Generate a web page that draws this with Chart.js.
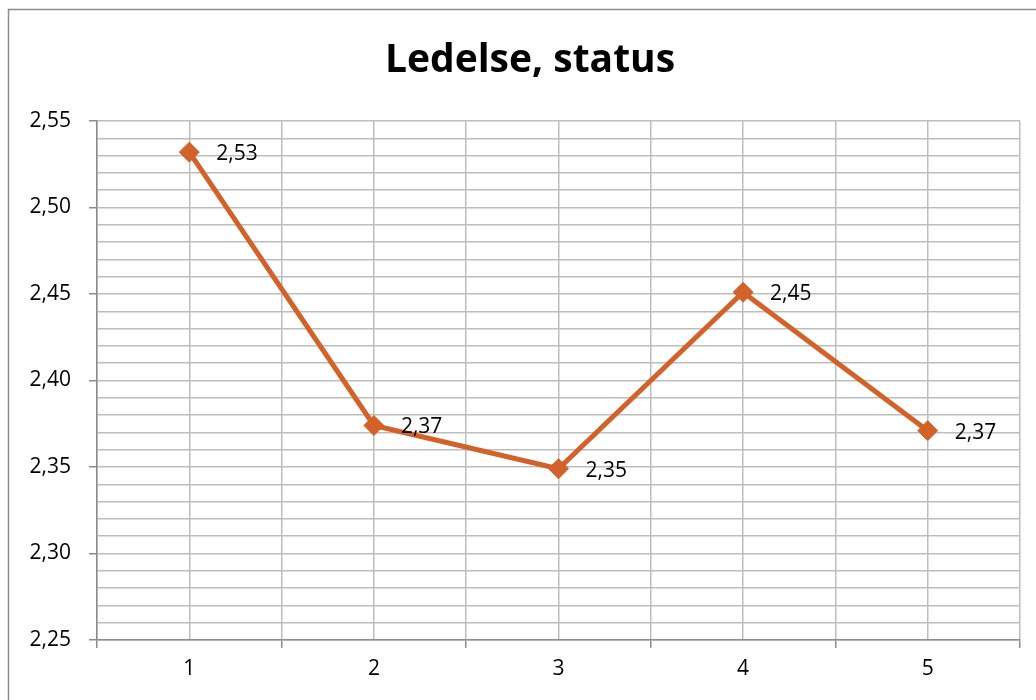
<!DOCTYPE html>
<html>
<head>
<meta charset="utf-8">
<script src="https://cdn.jsdelivr.net/npm/chart.js@4"></script>
<style>
  html, body { margin: 0; padding: 0; background: #fff; }
  #wrap { width: 1036px; height: 700px; position: relative; }
</style>
</head>
<body>
<div id="wrap"><canvas id="myChart" width="1036" height="700"></canvas></div>
<script>
var titleText = "Ledelse, status";
var categories = [1, 2, 3, 4, 5];
var values = [2.532, 2.374, 2.349, 2.451, 2.371];
var yMin = 2.25, yMax = 2.55;

var lineColor = "#D2622A";
var gridColor = "#BDBDBD";
var fontFamily = "'Open Sans', 'Liberation Sans', sans-serif";

var fmt = (v) => v.toFixed(2).replace(".", ",");
var isMajorY = (v) => Math.round(v * 100) % 5 === 0;
var isWhole = (v) => Math.abs(v - Math.round(v)) < 1e-6;

// outer frame of the chart object, plus the title centred over the frame
var framePlugin = {
  id: "frame",
  beforeDraw: (chart) => {
    var ctx = chart.ctx;
    ctx.save();
    ctx.strokeStyle = "#8C8C8C";
    ctx.lineWidth = 1.5;
    ctx.beginPath();
    ctx.moveTo(8.5, 720);
    ctx.lineTo(8.5, 9.5);
    ctx.lineTo(1050, 9.5);
    ctx.stroke();

    ctx.font = "bold 39px " + fontFamily;
    ctx.fillStyle = "#000";
    ctx.textAlign = "center";
    ctx.textBaseline = "middle";
    ctx.fillText(titleText, 530, 61);
    ctx.restore();
  },
};

// value labels to the right of each marker
var valueLabels = {
  id: "valueLabels",
  afterDatasetsDraw: (chart) => {
    var ctx = chart.ctx;
    var meta = chart.getDatasetMeta(0);
    ctx.save();
    ctx.font = "21px " + fontFamily;
    ctx.fillStyle = "#000";
    ctx.textAlign = "left";
    ctx.textBaseline = "middle";
    meta.data.forEach((pt, i) => {
      ctx.fillText(fmt(values[i]), pt.x + 27, pt.y + 2);
    });
    ctx.restore();
  },
};

var ctx = document.getElementById("myChart").getContext("2d");
var myChart = new Chart(ctx, {
  type: "line",
  data: {
    datasets: [
      {
        label: titleText,
        data: categories.map((c, i) => ({ x: c, y: values[i] })),
        borderColor: lineColor,
        backgroundColor: lineColor,
        borderWidth: 5,
        pointStyle: "rectRot",
        pointRadius: 10,
        pointHoverRadius: 10,
        pointBorderWidth: 1,
        tension: 0,
      },
    ],
  },
  options: {
    responsive: false,
    animation: false,
    layout: { padding: { left: 10, right: 16, top: 121, bottom: 0 } },
    plugins: {
      legend: { display: false },
      tooltip: { enabled: false },
      title: { display: false },
    },
    scales: {
      x: {
        type: "linear",
        min: 0.5,
        max: 5.5,
        afterFit: (s) => { s.height = 60; },
        afterBuildTicks: (s) => {
          s.ticks = [];
          for (var k = 1; k <= 11; k++) s.ticks.push({ value: k * 0.5 });
        },
        ticks: {
          autoSkip: false,
          maxRotation: 0,
          padding: 8,
          color: "#000",
          font: { family: fontFamily, size: 21 },
          callback: (v) => (isWhole(v) ? String(Math.round(v)) : ""),
        },
        grid: {
          color: gridColor,
          lineWidth: 1.5,
          tickLength: 8,
          tickColor: (c) => (isWhole(c.tick.value) ? "rgba(0,0,0,0)" : "#8C8C8C"),
        },
        border: { color: "#8C8C8C", width: 1.5 },
      },
      y: {
        min: yMin,
        max: yMax,
        afterFit: (s) => { s.width = 87; },
        afterBuildTicks: (s) => {
          s.ticks = [];
          for (var k = 225; k <= 255; k++) s.ticks.push({ value: k / 100 });
        },
        ticks: {
          autoSkip: false,
          padding: 18,
          color: "#000",
          font: { family: fontFamily, size: 21 },
          callback: (v) => (isMajorY(v) ? fmt(v) : ""),
        },
        grid: {
          color: gridColor,
          lineWidth: 1.5,
          tickLength: 8,
          tickColor: (c) => (isMajorY(c.tick.value) ? "#8C8C8C" : "rgba(0,0,0,0)"),
        },
        border: { color: "#8C8C8C", width: 1.5 },
      },
    },
  },
  plugins: [framePlugin, valueLabels],
});
</script>
</body>
</html>
